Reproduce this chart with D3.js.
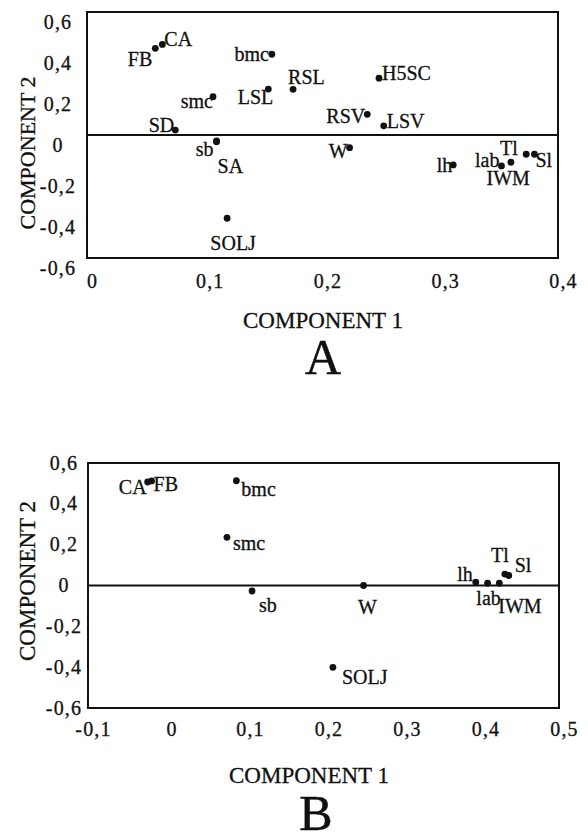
<!DOCTYPE html>
<html>
<head>
<meta charset="utf-8">
<script src="https://cdn.jsdelivr.net/npm/d3@7"></script>
<style>
  html, body { margin: 0; padding: 0; background: #fff; }
  svg text { font-family: "Liberation Serif", "Times New Roman", serif; fill: #111; stroke: #111; stroke-width: 0.3px; }
</style>
</head>
<body>
<div id="chart"></div>
<script>
// panel A
const labelsA = ["FB", "CA", "bmc", "LSL", "RSL", "smc", "SD", "sb", "SA", "SOLJ",
                 "H5SC", "RSV", "LSV", "W", "lh", "lab", "Tl", "IWM", "Sl"]
const comp1A = [0.058, 0.064, 0.157, 0.154, 0.175, 0.107, 0.075, 0.110, 0.110, 0.119,
                0.248, 0.238, 0.252, 0.223, 0.311, 0.352, 0.360, 0.373, 0.380]
const comp2A = [0.423, 0.442, 0.394, 0.224, 0.223, 0.187, 0.024, -0.029, -0.033, -0.406,
                0.277, 0.101, 0.045, -0.062, -0.146, -0.151, -0.133, -0.094, -0.094]

// panel B
const labelsB = ["CA", "FB", "bmc", "smc", "sb", "W", "SOLJ", "lh", "lab", "IWM", "Tl", "Sl"]
const comp1B = [-0.024, -0.019, 0.089, 0.077, 0.109, 0.251, 0.212, 0.394, 0.409, 0.424, 0.431, 0.436]
const comp2B = [0.507, 0.512, 0.513, 0.236, -0.027, 0.0, -0.401, 0.016, 0.011, 0.011, 0.056, 0.049]

const xTicksA = [0, 0.1, 0.2, 0.3, 0.4]
const xTicksB = [-0.1, 0, 0.1, 0.2, 0.3, 0.4, 0.5]
const yTicks = [-0.6, -0.4, -0.2, 0, 0.2, 0.4, 0.6]

// where each name sits next to its dot: [anchor, dx, dy]
const offsetsA = {
  FB: ["end", -3, 18], CA: ["start", 2, 2], bmc: ["end", -3, 7], LSL: ["end", 5, 15],
  RSL: ["start", -5, -5], smc: ["end", 0, 11], SD: ["end", -1, 2], sb: ["end", -3, 15],
  SA: ["start", 1, 31], SOLJ: ["middle", 6, 32], H5SC: ["start", 3, 2], RSV: ["end", -2, 9],
  LSV: ["start", 3, 2], W: ["end", -2, 10], lh: ["end", -1, 7], lab: ["end", -2, 1],
  Tl: ["middle", -2, -7], IWM: ["middle", -18, 31], Sl: ["start", 1, 13]
}
const offsetsB = {
  CA: ["end", -1, 12], FB: ["start", 2, 10], bmc: ["start", 5, 15], smc: ["start", 6, 13],
  sb: ["start", 7, 21], W: ["middle", 4, 28], SOLJ: ["start", 9, 17], lh: ["end", -3, -1],
  lab: ["middle", 1, 22], IWM: ["start", -1, 30], Tl: ["middle", -5, -12], Sl: ["start", 6, -3]
}

const width = 588
const height = 840

const fmtComma = d3.formatLocale({decimal: ",", thousands: ".", grouping: [3], currency: ["", ""], minus: "-"}).format(".1f")
const tickFmt = v => v === 0 ? "0" : fmtComma(v)

const svg = d3.select("#chart")
    .append("svg")
    .attr("width", width)
    .attr("height", height)
    .attr("viewBox", [0, 0, width, height])

function drawPanel(p) {
    const x = d3.scaleLinear().domain(p.xDomain).range([p.left, p.right])
    const y = d3.scaleLinear().domain([-0.6, 0.6]).range([p.bottom, p.top])
    const g = svg.append("g")

    // axes: labels only, no tick marks
    const xAxis = g.append("g")
        .attr("transform", `translate(${p.xLabelShift},${p.xLabelY})`)
        .call(d3.axisBottom(x).tickValues(p.xTicks).tickFormat(tickFmt).tickSize(0).tickPadding(0))
    xAxis.select(".domain").remove()
    xAxis.selectAll("text")
        .attr("y", 0).attr("dy", 0)
        .style("font-size", "20px")
        .style("letter-spacing", "1.2px")
        .style("font-family", '"Liberation Serif", serif')

    const yAxis = g.append("g")
        .attr("transform", `translate(${p.yLabelX},${p.yLabelShift})`)
        .call(d3.axisLeft(y).tickValues(yTicks).tickFormat(tickFmt).tickSize(0).tickPadding(0))
    yAxis.select(".domain").remove()
    yAxis.selectAll("text")
        .attr("x", 0).attr("dy", 0)
        .attr("text-anchor", "middle")
        .style("font-size", "20px")
        .style("letter-spacing", "1.2px")
        .style("font-family", '"Liberation Serif", serif')

    // frame and zero line
    g.append("rect")
        .attr("x", p.left).attr("y", p.top)
        .attr("width", p.right - p.left).attr("height", p.bottom - p.top)
        .attr("fill", "none").attr("stroke", "#111").attr("stroke-width", 2)
    g.append("line")
        .attr("x1", p.left).attr("x2", p.right)
        .attr("y1", y(0)).attr("y2", y(0))
        .attr("stroke", "#111").attr("stroke-width", 2)

    const pts = p.labels.map((name, i) => ({name: name, c1: p.c1[i], c2: p.c2[i]}))

    g.append("g").selectAll("circle")
        .data(pts)
        .join("circle")
        .attr("cx", d => x(d.c1))
        .attr("cy", d => y(d.c2))
        .attr("r", 3.4)
        .attr("fill", "#111")

    g.append("g").selectAll("text")
        .data(pts)
        .join("text")
        .attr("x", d => x(d.c1) + p.offsets[d.name][1])
        .attr("y", d => y(d.c2) + p.offsets[d.name][2])
        .attr("text-anchor", d => p.offsets[d.name][0])
        .style("font-size", "20px")
        .text(d => d.name)

    // titles
    g.append("text")
        .attr("x", p.xTitleX).attr("y", p.xTitleY)
        .attr("text-anchor", "middle")
        .style("font-size", "23px")
        .text("COMPONENT 1")
    g.append("text")
        .attr("transform", `translate(${p.yTitleX},${p.yTitleY}) rotate(-90)`)
        .attr("text-anchor", "middle")
        .style("font-size", p.yTitleSize)
        .text("COMPONENT 2")
    g.append("text")
        .attr("x", p.letterX).attr("y", p.letterY)
        .attr("text-anchor", "middle")
        .style("font-size", "50px")
        .style("stroke-width", "0.5px")
        .text(p.letter)
}

drawPanel({
    labels: labelsA, c1: comp1A, c2: comp2A, offsets: offsetsA,
    xDomain: [0, 0.4], xTicks: xTicksA,
    left: 87, right: 558, top: 12, bottom: 258,
    xLabelShift: 5, xLabelY: 288, yLabelX: 58, yLabelShift: 16,
    xTitleX: 323, xTitleY: 328, yTitleX: 35, yTitleY: 153, yTitleSize: "22px",
    letter: "A", letterX: 323, letterY: 374
})

drawPanel({
    labels: labelsB, c1: comp1B, c2: comp2B, offsets: offsetsB,
    xDomain: [-0.1, 0.5], xTicks: xTicksB,
    left: 88, right: 559, top: 463, bottom: 708,
    xLabelShift: 5, xLabelY: 736, yLabelX: 64, yLabelShift: 6,
    xTitleX: 309, xTitleY: 783, yTitleX: 35, yTitleY: 581, yTitleSize: "23px",
    letter: "B", letterX: 316, letterY: 830
})
</script>
</body>
</html>
